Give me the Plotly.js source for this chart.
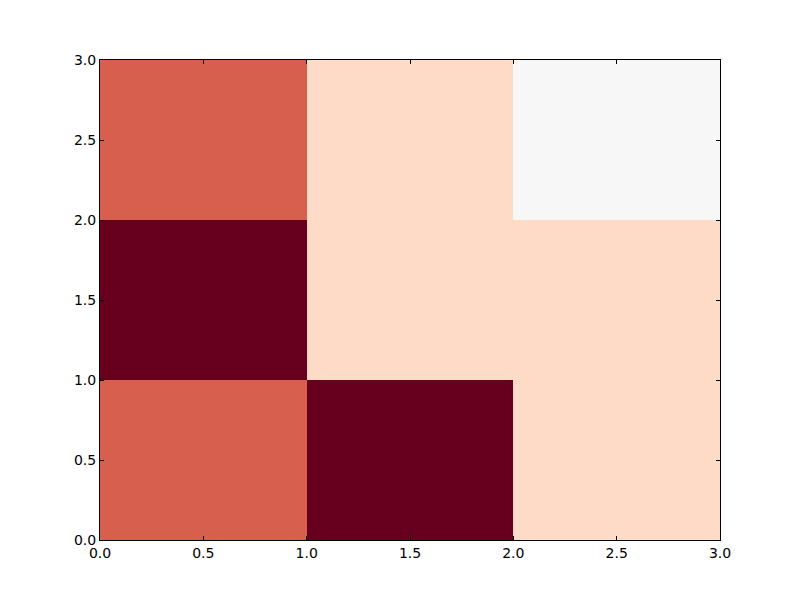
<!DOCTYPE html>
<html>
<head>
<meta charset="utf-8">
<script src="https://cdn.plot.ly/plotly-3.0.1.min.js"></script>
<style>html,body{margin:0;padding:0;background:#fff;}</style>
</head>
<body>
<div id="chart" style="width:800px;height:600px;"></div>
<script>
// Cell edges along x and y
var xEdges = [0, 1, 2, 3];
var yEdges = [0, 1, 2, 3];
// Values, row by row from bottom (y=0) to top
var row0 = [2, 0, 4];
var row1 = [0, 4, 4];
var row2 = [2, 4, 5];
var zValues = [row0, row1, row2];
var zMin = 0, zMax = 10;
var tickVals = [0, 0.5, 1, 1.5, 2, 2.5, 3];

var rdbu = ['#67001f','#b2182b','#d6604d','#f4a582','#fddbc7','#f7f7f7','#d1e5f0','#92c5de','#4393c3','#2166ac','#053061'];
var colorscale = rdbu.map(function(c, i){ return [i/(rdbu.length-1), c]; });

var trace = {
  type: 'heatmap',
  x: xEdges,
  y: yEdges,
  z: zValues,
  zmin: zMin,
  zmax: zMax,
  colorscale: colorscale,
  showscale: false,
  hoverinfo: 'skip'
};

var axisCommon = {
  range: [0, 3],
  tickvals: tickVals,
  tickformat: '.1f',
  ticks: 'inside',
  ticklen: 4,
  tickwidth: 1,
  tickcolor: '#000',
  showline: true,
  linecolor: '#000',
  linewidth: 1,
  mirror: 'ticks',
  showgrid: false,
  zeroline: false,
  tickfont: {family: 'DejaVu Sans', size: 14, color: '#000'}
};

var layout = {
  width: 800, height: 600,
  margin: {l: 100, r: 80, t: 60, b: 60},
  paper_bgcolor: '#fff',
  plot_bgcolor: '#fff',
  xaxis: Object.assign({}, axisCommon),
  yaxis: Object.assign({}, axisCommon),
  showlegend: false
};

Plotly.newPlot('chart', [trace], layout, {displayModeBar: false, staticPlot: true});
</script>
</body>
</html>
